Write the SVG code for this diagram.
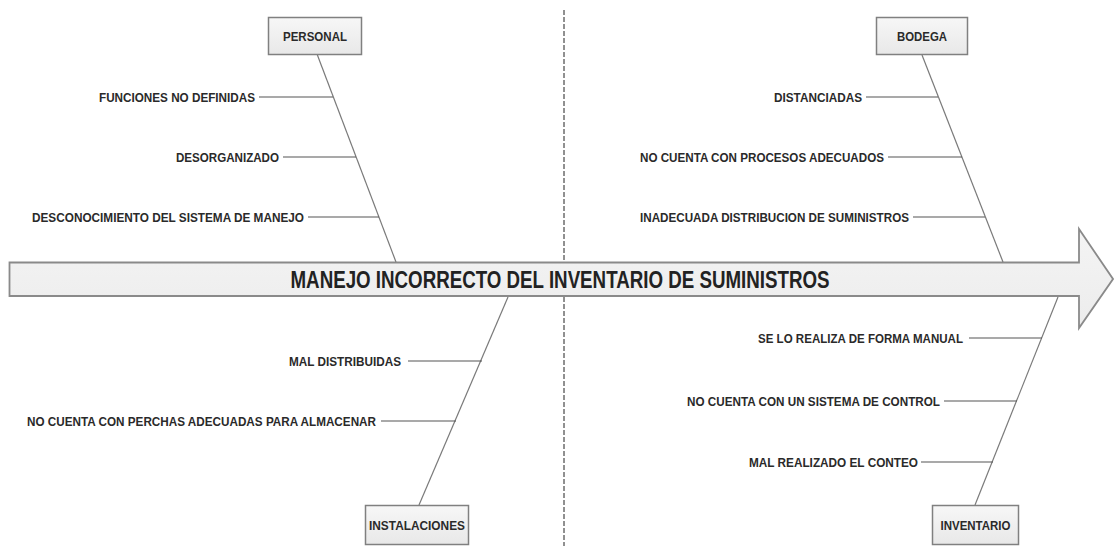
<svg xmlns="http://www.w3.org/2000/svg" width="1114" height="546" viewBox="0 0 1114 546">
<style>
.box{fill:url(#bg);stroke:#808080;stroke-width:1.5}
.cat{font-family:"Liberation Sans",Arial,sans-serif;font-weight:bold;font-size:13px;fill:#2a2a2a;text-anchor:middle}
.lbl{font-family:"Liberation Sans",Arial,sans-serif;font-weight:bold;font-size:13px;fill:#2a2a2a;text-anchor:end}
.bone{stroke:#7a7a7a;stroke-width:1.2;fill:none}
.sub{stroke:#555;stroke-width:1.2;fill:none}
.title{font-family:"Liberation Sans",Arial,sans-serif;font-weight:bold;font-size:23px;fill:#222;text-anchor:middle}
</style>
<defs>
<linearGradient id="bg" x1="0" y1="0" x2="0" y2="1">
<stop offset="0" stop-color="#f7f7f7"/>
<stop offset="1" stop-color="#e8e8e8"/>
</linearGradient>
<linearGradient id="ag" x1="0" y1="0" x2="0" y2="1">
<stop offset="0" stop-color="#f4f4f4"/>
<stop offset="1" stop-color="#ececec"/>
</linearGradient>
</defs>
<rect width="1114" height="546" fill="#ffffff"/>
<line x1="564" y1="10" x2="564" y2="546" stroke="#222" stroke-width="1" stroke-dasharray="5,2"/>
<g id="effect">
<path d="M9.5,262.5 H1079 V229 L1113,279 L1079,328 V296 H9.5 Z" fill="url(#ag)" stroke="#8a8a8a" stroke-width="1.8"/>
<text class="title" x="560" y="288" textLength="539" lengthAdjust="spacingAndGlyphs">MANEJO INCORRECTO DEL INVENTARIO DE SUMINISTROS</text>
</g>
<g id="connectors">
<line class="bone" x1="317" y1="54" x2="396" y2="262"/>
<line class="bone" x1="922" y1="55" x2="1003" y2="262"/>
<line class="bone" x1="508" y1="297" x2="419" y2="505"/>
<line class="bone" x1="1058" y1="297" x2="975" y2="505"/>
<line class="sub" x1="259" y1="97" x2="333" y2="97"/>
<line class="sub" x1="283" y1="157" x2="356" y2="157"/>
<line class="sub" x1="308" y1="217" x2="379" y2="217"/>
<line class="sub" x1="866" y1="97" x2="938" y2="97"/>
<line class="sub" x1="888" y1="157" x2="962" y2="157"/>
<line class="sub" x1="913" y1="217" x2="985" y2="217"/>
<line class="sub" x1="408" y1="361" x2="482" y2="361"/>
<line class="sub" x1="381" y1="421" x2="456" y2="421"/>
<line class="sub" x1="969" y1="338" x2="1042" y2="338"/>
<line class="sub" x1="944" y1="401" x2="1017" y2="401"/>
<line class="sub" x1="921" y1="462" x2="993" y2="462"/>
</g>
<g id="personal">
<rect class="box" x="268.5" y="17.5" width="93" height="37"/>
<text class="cat" x="315" y="41" textLength="64" lengthAdjust="spacingAndGlyphs">PERSONAL</text>
<text class="lbl" x="255" y="101.5" textLength="156" lengthAdjust="spacingAndGlyphs">FUNCIONES NO DEFINIDAS</text>
<text class="lbl" x="279" y="161.5" textLength="103" lengthAdjust="spacingAndGlyphs">DESORGANIZADO</text>
<text class="lbl" x="304" y="221.5" textLength="272" lengthAdjust="spacingAndGlyphs">DESCONOCIMIENTO DEL SISTEMA DE MANEJO</text>
</g>
<g id="bodega">
<rect class="box" x="876.5" y="17.5" width="91" height="37"/>
<text class="cat" x="922" y="41" textLength="50" lengthAdjust="spacingAndGlyphs">BODEGA</text>
<text class="lbl" x="862" y="101.5" textLength="88" lengthAdjust="spacingAndGlyphs">DISTANCIADAS</text>
<text class="lbl" x="884" y="161.5" textLength="244" lengthAdjust="spacingAndGlyphs">NO CUENTA CON PROCESOS ADECUADOS</text>
<text class="lbl" x="909" y="221.5" textLength="269" lengthAdjust="spacingAndGlyphs">INADECUADA DISTRIBUCION DE SUMINISTROS</text>
</g>
<g id="instalaciones">
<rect class="box" x="365.5" y="505.5" width="103" height="39"/>
<text class="cat" x="417" y="529.5" textLength="96" lengthAdjust="spacingAndGlyphs">INSTALACIONES</text>
<text class="lbl" x="401" y="365.5" textLength="112" lengthAdjust="spacingAndGlyphs">MAL DISTRIBUIDAS</text>
<text class="lbl" x="376" y="425.5" textLength="349" lengthAdjust="spacingAndGlyphs">NO CUENTA CON PERCHAS ADECUADAS PARA ALMACENAR</text>
</g>
<g id="inventario">
<rect class="box" x="932.5" y="505.5" width="86" height="39"/>
<text class="cat" x="975.5" y="529.5" textLength="70" lengthAdjust="spacingAndGlyphs">INVENTARIO</text>
<text class="lbl" x="963" y="342.5" textLength="205" lengthAdjust="spacingAndGlyphs">SE LO REALIZA DE FORMA MANUAL</text>
<text class="lbl" x="940" y="405.5" textLength="253" lengthAdjust="spacingAndGlyphs">NO CUENTA CON UN SISTEMA DE CONTROL</text>
<text class="lbl" x="918" y="466.5" textLength="169" lengthAdjust="spacingAndGlyphs">MAL REALIZADO EL CONTEO</text>
</g>
</svg>
